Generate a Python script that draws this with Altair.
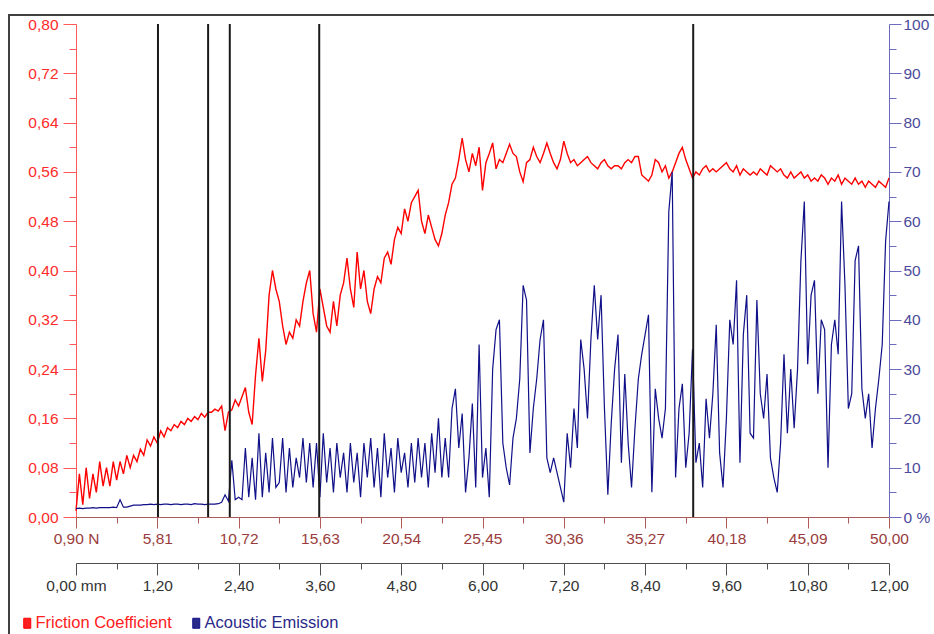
import altair as alt
import pandas as pd

# ---------------- data ----------------
STEP_MM = 0.05  # sampling step of the scratch distance, mm

friction = [
    0.01, 0.07, 0.02, 0.08, 0.03, 0.07, 0.04, 0.09, 0.05, 0.08,
    0.05, 0.09, 0.06, 0.09, 0.07, 0.10, 0.08, 0.10, 0.09, 0.11,
    0.10, 0.125, 0.115, 0.13, 0.12, 0.14, 0.13, 0.145, 0.14, 0.15,
    0.145, 0.155, 0.15, 0.16, 0.155, 0.163, 0.158, 0.168, 0.162, 0.17,
    0.17, 0.175, 0.172, 0.18, 0.14, 0.17, 0.174, 0.19, 0.18, 0.195,
    0.21, 0.17, 0.15, 0.23, 0.29, 0.22, 0.27, 0.36, 0.40, 0.37,
    0.35, 0.31, 0.28, 0.30, 0.29, 0.32, 0.31, 0.35, 0.38, 0.40,
    0.33, 0.30, 0.37, 0.34, 0.31, 0.30, 0.35, 0.31, 0.36, 0.38,
    0.42, 0.37, 0.34, 0.43, 0.37, 0.40, 0.35, 0.33, 0.37, 0.39,
    0.38, 0.42, 0.43, 0.41, 0.45, 0.47, 0.46, 0.50, 0.48, 0.51,
    0.52, 0.53, 0.48, 0.46, 0.49, 0.47, 0.45, 0.44, 0.46, 0.49,
    0.51, 0.54, 0.55, 0.58, 0.615, 0.58, 0.56, 0.59, 0.57, 0.60,
    0.53, 0.575, 0.59, 0.607, 0.565, 0.58, 0.575, 0.59, 0.605, 0.59,
    0.585, 0.56, 0.544, 0.575, 0.58, 0.60, 0.585, 0.575, 0.59, 0.607,
    0.59, 0.575, 0.565, 0.58, 0.61, 0.59, 0.575, 0.58, 0.57, 0.575,
    0.58, 0.585, 0.575, 0.57, 0.565, 0.575, 0.58, 0.57, 0.565, 0.57,
    0.57, 0.565, 0.575, 0.58, 0.575, 0.585, 0.585, 0.555, 0.55, 0.545,
    0.555, 0.58, 0.575, 0.56, 0.57, 0.55, 0.56, 0.575, 0.59, 0.60,
    0.58, 0.565, 0.55, 0.56, 0.555, 0.565, 0.57, 0.56, 0.565, 0.56,
    0.565, 0.57, 0.575, 0.565, 0.56, 0.57, 0.555, 0.565, 0.56, 0.555,
    0.56, 0.555, 0.565, 0.56, 0.555, 0.57, 0.565, 0.56, 0.565, 0.555,
    0.55, 0.56, 0.55, 0.555, 0.56, 0.55, 0.555, 0.545, 0.55, 0.545,
    0.555, 0.55, 0.54, 0.55, 0.545, 0.555, 0.54, 0.55, 0.545, 0.54,
    0.55, 0.54, 0.545, 0.535, 0.545, 0.54, 0.535, 0.545, 0.54, 0.535,
    0.55,
]

acoustic = [
    1.7, 1.8, 1.7, 1.8, 1.8, 1.9, 1.8, 1.9, 1.9, 1.9,
    1.9, 2.0, 1.9, 3.5, 2.0, 2.0, 2.2, 2.4, 2.4, 2.4,
    2.5, 2.5, 2.6, 2.5, 2.6, 2.5, 2.6, 2.6, 2.5, 2.6,
    2.6, 2.5, 2.6, 2.6, 2.5, 2.7, 2.6, 2.6, 2.5, 2.6,
    2.6, 2.6, 2.7, 3.0, 4.5, 3.2, 11.5, 3.5, 4.0, 3.5,
    14, 4, 12, 3.5, 17, 4, 13, 5, 16, 6,
    7, 16, 5, 14, 6, 12, 8, 16, 7, 15,
    6, 15, 4, 17, 7, 14, 5, 15, 8, 13,
    5, 15, 7, 13, 4, 15, 8, 16, 6, 14,
    4, 17, 8, 14, 5, 16, 9, 13, 6, 15,
    7, 16, 8, 15, 6, 17, 9, 20, 8, 16,
    8, 22, 26, 14, 21, 5, 12, 23, 6, 35,
    8, 14, 4, 30, 38, 40, 15, 10, 6.5, 16,
    20, 28, 47, 44, 13, 22, 28, 36, 40, 12,
    9, 12, 9, 6, 3, 17, 10, 22, 14, 36,
    30, 20, 36, 47, 36, 45, 22, 4.5, 19, 30,
    37, 11, 29, 15, 6, 18, 28, 33, 37, 41,
    5, 26, 20, 16, 22, 62, 70, 8, 22, 27,
    10, 17, 34, 11, 15, 6, 24, 16, 25, 39,
    13, 6, 20, 40, 35, 48, 11, 37, 45, 17,
    16, 44, 25, 20, 29, 12, 8, 5, 15, 33,
    17, 30, 18, 30, 52, 64, 31, 45, 48, 25,
    40, 38, 10, 35, 40, 33, 64, 47, 22, 25,
    52, 55, 26, 20, 25, 14, 22, 28, 35, 56,
    64,
]

event_mm = [1.21, 1.95, 2.27, 3.59, 9.11]

n_labels = ["0,90 N", "5,81", "10,72", "15,63", "20,54", "25,45",
            "30,36", "35,27", "40,18", "45,09", "50,00"]
mm_labels = ["0,00 mm", "1,20", "2,40", "3,60", "4,80", "6,00",
             "7,20", "8,40", "9,60", "10,80", "12,00"]
mu_labels = ["0,00", "0,08", "0,16", "0,24", "0,32", "0,40",
             "0,48", "0,56", "0,64", "0,72", "0,80"]
ae_labels = ["0 %", "10", "20", "30", "40", "50", "60", "70", "80", "90", "100"]

series_names = ["Friction Coefficient", "Acoustic Emission"]

# ---------------- tables ----------------
mm = [round(i * STEP_MM, 2) for i in range(len(friction))]
df_f = pd.DataFrame({"mm": mm, "mu": friction, "series": series_names[0]})
df_a = pd.DataFrame({"mm": mm[:len(acoustic)], "ae": acoustic, "series": series_names[1]})
df_e = pd.DataFrame({"mm": event_mm})

FONT = "Liberation Sans"
FS = 15.5
FS_LEG = 16.5


def js_list(lbls):
    return "[" + ",".join("'" + s + "'" for s in lbls) + "]"


x_max = 12.0
x_major = x_max / (len(mm_labels) - 1)
x_vals = [round(i * x_major / 2, 4) for i in range(2 * (len(mm_labels) - 1) + 1)]
mu_max = 0.8
mu_major = mu_max / (len(mu_labels) - 1)
mu_vals = [round(i * mu_major / 2, 4) for i in range(2 * (len(mu_labels) - 1) + 1)]
ae_vals = [i * 5 for i in range(21)]

x_major_test = f"round(datum.value/{x_major/2}) % 2 == 0"
mu_major_test = f"round(datum.value/{mu_major/2}) % 2 == 0"
ae_major_test = "round(datum.value) % 10 == 0"

x_scale = alt.Scale(domain=[0, x_max], nice=False, zero=False)

common_axis = dict(grid=False, title=None, labelFont=FONT, labelFontSize=FS,
                   labelOverlap=False, labelFlush=False, labelBound=False)

axis_n = alt.Axis(
    orient="bottom", values=x_vals,
    labelExpr=f"{x_major_test} ? {js_list(n_labels)}[round(datum.value/{x_major})] : ''",
    tickSize={"condition": {"test": x_major_test, "value": 11}, "value": 6},
    domainColor="#b05a5a", tickColor="#b05a5a", labelColor="#9a3c3c",
    labelPadding=3, **common_axis)

axis_mm = alt.Axis(
    orient="bottom", offset=46, values=x_vals,
    labelExpr=f"{x_major_test} ? {js_list(mm_labels)}[round(datum.value/{x_major})] : ''",
    tickSize={"condition": {"test": x_major_test, "value": 12}, "value": 6},
    domainColor="#505050", tickColor="#505050", labelColor="#333333",
    labelPadding=3, **common_axis)

axis_mu = alt.Axis(
    orient="left", values=mu_vals,
    labelExpr=f"{mu_major_test} ? {js_list(mu_labels)}[round(datum.value/{mu_major})] : ''",
    tickSize={"condition": {"test": mu_major_test, "value": 13}, "value": 7},
    domainColor="#ff5a5a", tickColor="#ff5a5a", labelColor="#ff2a2a",
    labelPadding=5, **common_axis)

axis_ae = alt.Axis(
    orient="right", values=ae_vals,
    labelExpr=f"{ae_major_test} ? {js_list(ae_labels)}[round(datum.value/10)] : ''",
    tickSize={"condition": {"test": ae_major_test, "value": 12}, "value": 7},
    domainColor="#6b6bc0", tickColor="#6b6bc0", labelColor="#4b4b9b",
    labelPadding=2, **common_axis)

SYMBOL = "M-0.7,-1H0.7V1H-0.7Z"


def legend(x, color):
    return alt.Legend(title=None, orient="none", legendX=x, legendY=591,
                      padding=0, labelColor=color, labelFont=FONT,
                      labelFontSize=FS_LEG, labelOffset=0, symbolType=SYMBOL,
                      symbolSize=100, symbolFillColor=color,
                      symbolStrokeColor="black", symbolStrokeWidth=1)


red = alt.Chart(df_f).mark_line(strokeWidth=1.4).encode(
    x=alt.X("mm:Q", scale=x_scale, axis=axis_n),
    y=alt.Y("mu:Q", scale=alt.Scale(domain=[0, mu_max], nice=False), axis=axis_mu),
    color=alt.Color("series:N",
                    scale=alt.Scale(domain=[series_names[0]], range=["#ff0000"]),
                    legend=legend(-57, "#ff2020")),
)

blue = alt.Chart(df_a).mark_line(strokeWidth=1.2).encode(
    x=alt.X("mm:Q", scale=x_scale, axis=axis_mm),
    y=alt.Y("ae:Q", scale=alt.Scale(domain=[0, 100], nice=False), axis=axis_ae),
    color=alt.Color("series:N",
                    scale=alt.Scale(domain=[series_names[1]], range=["#101088"]),
                    legend=legend(112, "#2a2a8a")),
)

rules = alt.Chart(df_e).mark_rule(color="#1a1a1a", strokeWidth=2).encode(
    x=alt.X("mm:Q", scale=x_scale, axis=None)
)

one = alt.Data(values=[{}])
frame_v = alt.Chart(one).mark_rule(color="#404040", strokeWidth=2).encode(
    x=alt.value(-67), y=alt.value(-9), y2=alt.value(620))
frame_h = alt.Chart(one).mark_rule(color="#404040", strokeWidth=2).encode(
    x=alt.value(-68), x2=alt.value(870), y=alt.value(-9))

chart = alt.layer(frame_v, frame_h, red, blue, rules).resolve_scale(
    x="independent", y="independent", color="independent"
).properties(
    width=813, height=493,
    autosize=alt.AutoSizeParams(type="none"),
    padding={"left": 76, "top": 24, "right": 45, "bottom": 117},
    background="white",
).configure_view(stroke=None)

chart.save("out.html", embed_options={"renderer": "svg", "actions": False})
